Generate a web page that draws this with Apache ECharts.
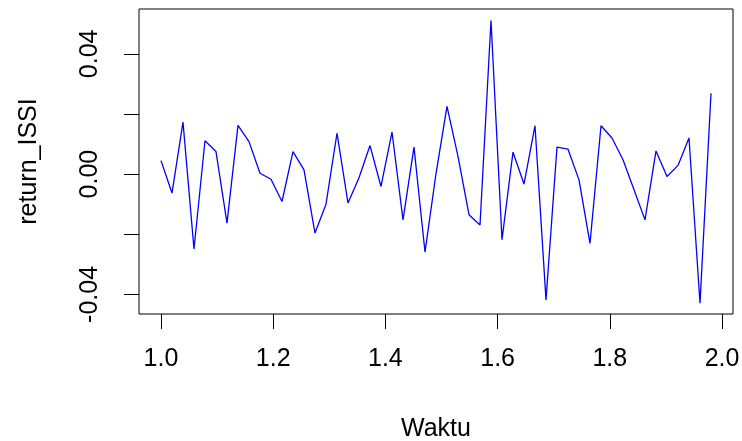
<!DOCTYPE html>
<html>
<head>
<meta charset="utf-8">
<script src="https://cdn.jsdelivr.net/npm/echarts@6/dist/echarts.min.js"></script>
<style>
html,body{margin:0;padding:0;background:#fff;}
#c{width:742px;height:441px;}
</style>
</head>
<body>
<div id="c"></div>
<script>
// weekly-like time series: start 1, frequency 51
const startTime = 1;
const frequency = 51;
const returnISSI = [
  0.0045, -0.0063, 0.0173, -0.0249, 0.0111, 0.0075, -0.0163, 0.0162, 0.0108, 0.0003,
  -0.0017, -0.0091, 0.0075, 0.0014, -0.0196, -0.0100, 0.0136, -0.0096, -0.0012, 0.0095,
  -0.0041, 0.0140, -0.0152, 0.0090, -0.0259, 0.0002, 0.0225, 0.0059, -0.0135, -0.0169,
  0.0511, -0.0218, 0.0073, -0.0033, 0.0161, -0.0418, 0.0090, 0.0083, -0.0019, -0.0230,
  0.0161, 0.0120, 0.0048, -0.0052, -0.0152, 0.0077, -0.0008, 0.0029, 0.0120, -0.0429,
  0.0269
];
const xTicks = [1.0, 1.2, 1.4, 1.6, 1.8, 2.0];
const yTicks = [-0.04, -0.02, 0.00, 0.02, 0.04];
const yLabels = [-0.04, 0.00, 0.04];

const points = returnISSI.map((v, i) => [startTime + i / frequency, v]);

const FONT = 'Liberation Sans, Arial, sans-serif';
const chart = echarts.init(document.getElementById('c'), null, {renderer: 'canvas'});
chart.setOption({
  animation: false,
  backgroundColor: '#ffffff',
  grid: {
    left: 139, right: 9, top: 9, bottom: 127,
    show: true, borderColor: '#000', borderWidth: 1, backgroundColor: 'transparent',
    containLabel: false, outerBoundsMode: 'none'
  },
  xAxis: {
    type: 'value',
    min: 0.9608, max: 2.0196,
    name: 'Waktu', nameLocation: 'middle', nameGap: 103,
    nameTextStyle: {fontFamily: FONT, fontSize: 25, color: '#000'},
    axisLine: {show: false, onZero: false},
    splitLine: {show: false},
    axisTick: {show: true, inside: false, length: 15, customValues: xTicks,
      lineStyle: {color: '#000', width: 1}},
    axisLabel: {show: true, customValues: xTicks, margin: 33,
      fontFamily: FONT, fontSize: 25, color: '#000',
      formatter: v => v.toFixed(1)}
  },
  yAxis: {
    type: 'value',
    min: -0.0465, max: 0.0549,
    name: 'return_ISSI', nameLocation: 'middle', nameGap: 97, nameRotate: 90,
    nameTextStyle: {fontFamily: FONT, fontSize: 25, color: '#000'},
    axisLine: {show: false, onZero: false},
    splitLine: {show: false},
    axisTick: {show: true, inside: false, length: 15, customValues: yTicks,
      lineStyle: {color: '#000', width: 1}},
    axisLabel: {show: true, customValues: yLabels, rotate: 90, margin: 36,
      fontFamily: FONT, fontSize: 25, color: '#000',
      formatter: v => v.toFixed(2)}
  },
  series: [{
    type: 'line',
    data: points,
    showSymbol: false,
    symbol: 'none',
    lineStyle: {color: '#0000FF', width: 1.3},
    itemStyle: {color: '#0000FF'},
    silent: true
  }]
});
</script>
</body>
</html>
